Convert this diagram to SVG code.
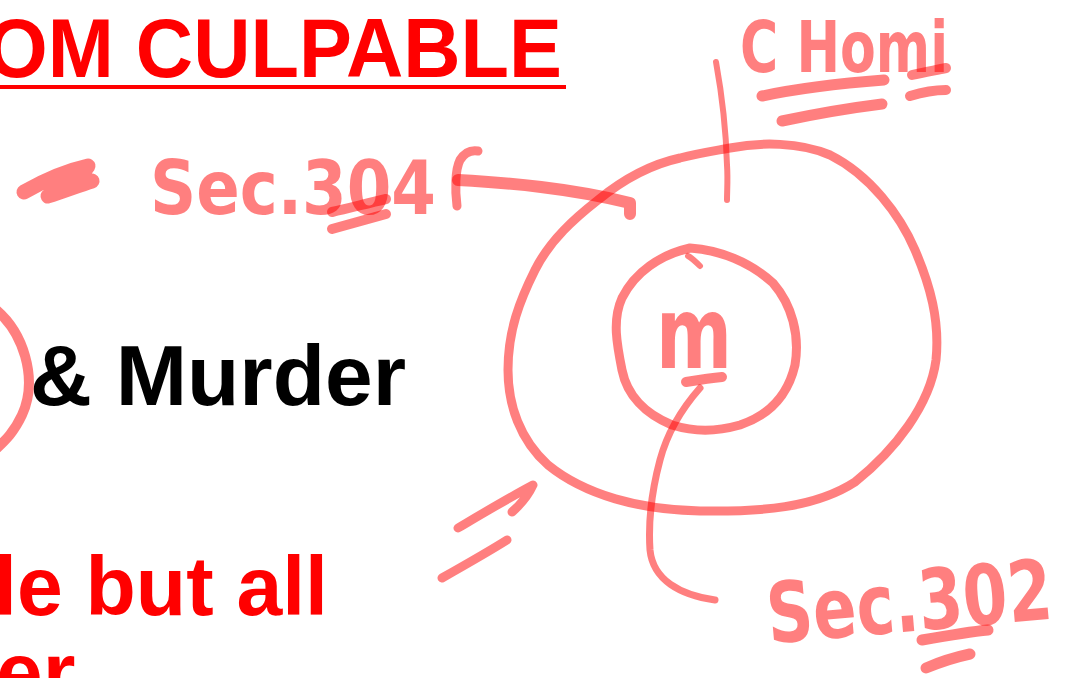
<svg xmlns="http://www.w3.org/2000/svg" width="1076" height="678" viewBox="0 0 1076 678">
<style>
.print{font-family:"Liberation Sans",Arial,sans-serif;font-weight:bold;}
.red{fill:#ff0000;}
.blk{fill:#000000;}
.ink{fill:none;stroke:#ff0000;stroke-opacity:0.5;stroke-linecap:round;stroke-linejoin:round;}
.hand{font-family:"DejaVu Sans","Liberation Sans",sans-serif;font-weight:bold;fill:#ff0000;fill-opacity:0.5;}
</style>
<rect width="1076" height="678" fill="#ffffff"/>

<g id="slide-text">
  <text class="print red" x="-14" y="77" font-size="84" textLength="576" lengthAdjust="spacingAndGlyphs">OM CULPABLE</text>
  <rect x="0" y="85" width="566" height="4" fill="#ff0000"/>
  <text class="print blk" x="30" y="405" font-size="85" textLength="376" lengthAdjust="spacingAndGlyphs">&amp; Murder</text>
  <text class="print red" x="-6" y="615" font-size="84" textLength="334" lengthAdjust="spacingAndGlyphs">le but all</text>
  <text class="print red" x="-4" y="701" font-size="84">er</text>
</g>

<g id="left-marks">
  <path class="ink" stroke-width="10" d="M-10,305 C25,330 38,380 22,415 C14,432 6,440 -5,450"/>
  <path class="ink" stroke-width="15" d="M24,192 C45,180 70,170 88,166 C80,178 64,186 48,196 C66,190 82,184 92,181"/>
  <path class="ink" stroke-width="9" d="M458,528 C480,515 505,500 533,485 C528,496 520,505 512,512"/>
  <path class="ink" stroke-width="9" d="M442,578 C465,565 488,552 507,540"/>
</g>

<g id="node-sec304">
  <text class="hand" x="150" y="214" font-size="74" textLength="286" lengthAdjust="spacingAndGlyphs">Sec.304</text>
  <path class="ink" stroke-width="10" d="M332,212 C350,208 368,203 386,199"/>
  <path class="ink" stroke-width="10" d="M332,229 C350,224 368,219 386,214"/>
</g>

<g id="node-chomi">
  <text class="hand" x="740" y="72" font-size="72" textLength="208" lengthAdjust="spacingAndGlyphs">C Homi</text>
  <path class="ink" stroke-width="11" d="M762,96 C800,88 845,83 884,80"/>
  <path class="ink" stroke-width="11" d="M782,121 C815,114 850,108 882,104"/>
  <path class="ink" stroke-width="10" d="M912,75 C925,72 937,70 946,68"/>
  <path class="ink" stroke-width="10" d="M910,96 C923,92 936,90 946,90"/>
</g>

<g id="node-sec302">
  <text class="hand" x="766" y="632" font-size="84" textLength="286" lengthAdjust="spacingAndGlyphs" transform="rotate(-5 900 600)">Sec.302</text>
  <path class="ink" stroke-width="11" d="M922,640 C945,636 968,632 988,630"/>
  <path class="ink" stroke-width="11" d="M926,668 C940,662 956,657 970,654"/>
</g>

<g id="node-outer">
  <path class="ink" stroke-width="9" d="M598,200 C620,182 648,165 680,158 C700,153 720,150 730,148 C760,142 800,142 830,155 C870,175 900,215 915,250 C930,285 940,320 936,360 C930,405 895,450 855,482 C815,508 760,512 700,511 C640,510 585,495 548,465 C520,440 508,405 508,370 C508,330 520,300 535,270 C550,240 575,218 598,200"/>
</g>

<g id="node-inner">
  <path class="ink" stroke-width="9" d="M690,248 C720,250 750,262 773,283 C792,305 800,335 795,365 C788,395 770,415 740,425 C715,432 695,432 672,425 C645,414 627,395 622,370 C617,345 612,320 622,298 C635,272 660,255 690,248"/>
  <path class="ink" stroke-width="6" d="M688,256 C692,258 696,262 700,266"/>
  <text class="hand" x="656" y="368" font-size="100" textLength="76" lengthAdjust="spacingAndGlyphs">m</text>
</g>

<g id="connectors">
  <path class="ink" stroke-width="9" d="M457,206 C455,190 455,170 460,160 C465,152 472,150 478,151"/>
  <path class="ink" stroke-width="12" d="M458,180 C510,183 570,188 630,203 L630,214"/>
  <path class="ink" stroke-width="6" d="M716,62 C722,95 726,130 727,165 C728,180 727,190 727,200"/>
  <path class="ink" stroke-width="10" d="M686,382 C698,380 710,378 722,377"/>
  <path class="ink" stroke-width="7" d="M700,388 C685,405 668,430 660,460 C652,490 648,520 650,550 C653,580 680,595 715,600"/>
</g>
</svg>
